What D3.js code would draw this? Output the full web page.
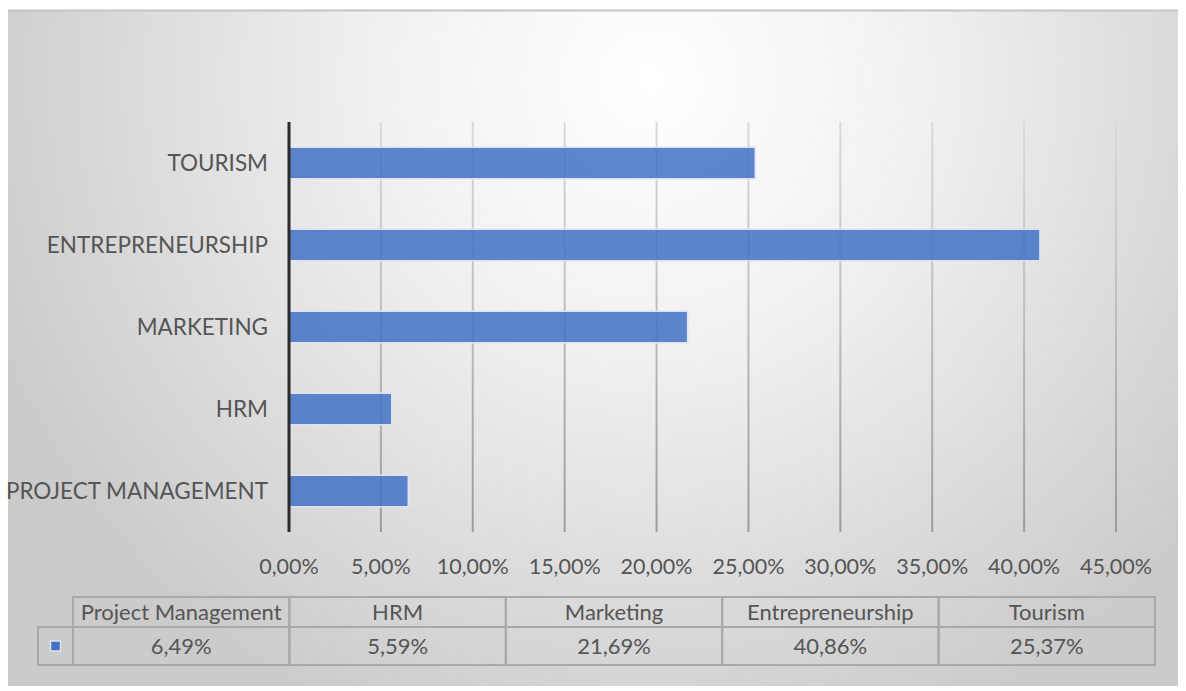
<!DOCTYPE html>
<html>
<head>
<meta charset="utf-8">
<script src="https://cdn.jsdelivr.net/npm/d3@7"></script>
<style>
  html, body { margin: 0; padding: 0; background: #ffffff; }
  svg { display: block; }
  text { font-family: Lato, "Open Sans", sans-serif; }
</style>
</head>
<body>
<svg id="chart" width="1186" height="691"></svg>
<script>
// Share of respondents by field of study
const categories = ["Project Management", "HRM", "Marketing", "Entrepreneurship", "Tourism"];
const axisLabels = ["PROJECT MANAGEMENT", "HRM", "MARKETING", "ENTREPRENEURSHIP", "TOURISM"];
const shares = [6.49, 5.59, 21.69, 40.86, 25.37];
const shareLabels = ["6,49%", "5,59%", "21,69%", "40,86%", "25,37%"];
const tickValues = [0, 5, 10, 15, 20, 25, 30, 35, 40, 45];
const tickLabels = ["0,00%", "5,00%", "10,00%", "15,00%", "20,00%", "25,00%", "30,00%", "35,00%", "40,00%", "45,00%"];

const svg = d3.select("#chart");

const plot = { left: 289, right: 1116, top: 122, bottom: 532 };
const table = { left: 73, right: 1155, top: 597, mid: 627, bottom: 665, keyLeft: 38 };
const textColor = "#555555";

const defs = svg.append("defs");

// chart area background: soft radial shading, lighter at the top centre
const bg = defs.append("radialGradient")
  .attr("id", "bgGrad")
  .attr("gradientUnits", "userSpaceOnUse")
  .attr("cx", 650).attr("cy", 80).attr("r", 700)
  .attr("fx", 650).attr("fy", 80);
bg.append("stop").attr("offset", "0%").attr("stop-color", "#ffffff");
bg.append("stop").attr("offset", "40%").attr("stop-color", "#f0f0f0");
bg.append("stop").attr("offset", "100%").attr("stop-color", "#cbcbcb");

// gridlines fade from light at the top to darker near the axis
const gg = defs.append("linearGradient")
  .attr("id", "gridGrad")
  .attr("gradientUnits", "userSpaceOnUse")
  .attr("x1", 0).attr("y1", plot.top).attr("x2", 0).attr("y2", plot.bottom);
gg.append("stop").attr("offset", "0%").attr("stop-color", "#dadada");
gg.append("stop").attr("offset", "100%").attr("stop-color", "#9c9c9c");

svg.append("rect")
  .attr("x", 8).attr("y", 10).attr("width", 1170).attr("height", 676)
  .attr("fill", "url(#bgGrad)");
svg.append("line")
  .attr("x1", 8).attr("x2", 1178).attr("y1", 10.5).attr("y2", 10.5)
  .attr("stroke", "#c4c4c4").attr("stroke-width", 2);

const x = d3.scaleLinear().domain([0, 45]).range([plot.left, plot.right]);
const y = d3.scaleBand()
  .domain(categories.slice().reverse())
  .range([plot.top, plot.bottom])
  .paddingInner(0.615)
  .paddingOuter(0.3075);

// vertical gridlines
svg.append("g")
  .selectAll("line")
  .data(tickValues.slice(1))
  .join("line")
  .attr("x1", d => x(d)).attr("x2", d => x(d))
  .attr("y1", plot.top).attr("y2", plot.bottom)
  .attr("stroke", "url(#gridGrad)")
  .attr("stroke-width", 2);

// bars
svg.append("g")
  .selectAll("rect")
  .data(categories)
  .join("rect")
  .attr("x", x(0))
  .attr("y", d => y(d))
  .attr("width", (d, i) => x(shares[i]) - x(0))
  .attr("height", y.bandwidth())
  .attr("fill", "#4472c4")
  .attr("fill-opacity", 0.86)
  .attr("stroke", "#dbe5f5")
  .attr("stroke-width", 1.5);

// category axis line
svg.append("line")
  .attr("x1", x(0)).attr("x2", x(0))
  .attr("y1", plot.top).attr("y2", plot.bottom)
  .attr("stroke", "#2b2b2b").attr("stroke-width", 3);

// category labels
svg.append("g")
  .selectAll("text")
  .data(categories)
  .join("text")
  .attr("x", 268)
  .attr("y", d => y(d) + y.bandwidth() / 2)
  .attr("dy", "0.36em")
  .attr("text-anchor", "end")
  .attr("font-size", 22.5)
  .attr("fill", textColor)
  .text((d, i) => axisLabels[i]);

// value axis tick labels
svg.append("g")
  .selectAll("text")
  .data(tickValues)
  .join("text")
  .attr("x", d => x(d))
  .attr("y", 566)
  .attr("dy", "0.36em")
  .attr("text-anchor", "middle")
  .attr("font-size", 21.5)
  .attr("fill", textColor)
  .text((d, i) => tickLabels[i]);

// data table below the axis
const colW = (table.right - table.left) / categories.length;
const tg = svg.append("g");
const lineColor = "#a8a8a8";

// header row cells
tg.selectAll("rect.head")
  .data(categories)
  .join("rect")
  .attr("class", "head")
  .attr("x", (d, i) => table.left + i * colW)
  .attr("y", table.top)
  .attr("width", colW).attr("height", table.mid - table.top)
  .attr("fill", "none").attr("stroke", lineColor).attr("stroke-width", 2);

// value row cells
tg.selectAll("rect.val")
  .data(categories)
  .join("rect")
  .attr("class", "val")
  .attr("x", (d, i) => table.left + i * colW)
  .attr("y", table.mid)
  .attr("width", colW).attr("height", table.bottom - table.mid)
  .attr("fill", "none").attr("stroke", lineColor).attr("stroke-width", 2);

// legend key cell
tg.append("rect")
  .attr("x", table.keyLeft).attr("y", table.mid)
  .attr("width", table.left - table.keyLeft).attr("height", table.bottom - table.mid)
  .attr("fill", "none").attr("stroke", lineColor).attr("stroke-width", 2);
tg.append("rect")
  .attr("x", (table.keyLeft + table.left) / 2 - 5)
  .attr("y", (table.mid + table.bottom) / 2 - 5)
  .attr("width", 10).attr("height", 10)
  .attr("fill", "#4472c4")
  .attr("stroke", "#dbe5f5").attr("stroke-width", 1.5);

tg.selectAll("text.head")
  .data(categories)
  .join("text")
  .attr("class", "head")
  .attr("x", (d, i) => table.left + (i + 0.5) * colW)
  .attr("y", (table.top + table.mid) / 2)
  .attr("dy", "0.36em")
  .attr("text-anchor", "middle")
  .attr("font-size", 22)
  .attr("fill", textColor)
  .text(d => d);

tg.selectAll("text.val")
  .data(shareLabels)
  .join("text")
  .attr("class", "val")
  .attr("x", (d, i) => table.left + (i + 0.5) * colW)
  .attr("y", (table.mid + table.bottom) / 2)
  .attr("dy", "0.36em")
  .attr("text-anchor", "middle")
  .attr("font-size", 22)
  .attr("fill", textColor)
  .text(d => d);
</script>
</body>
</html>
